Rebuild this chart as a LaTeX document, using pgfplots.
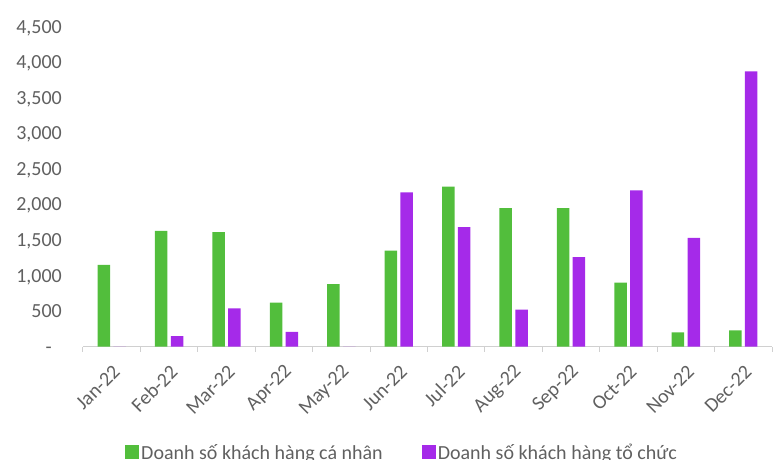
\documentclass[border=0pt]{standalone}
\usepackage{pgfplots}
\usepackage{pgfplotstable}
\pgfplotsset{compat=1.18}
\usepackage{fontspec}
\setmainfont{Carlito}

\definecolor{barGreen}{RGB}{82,190,60}
\definecolor{barPurple}{RGB}{165,42,233}
\definecolor{labelGrey}{RGB}{96,96,96}
\definecolor{axisGrey}{RGB}{208,208,208}

% Monthly sales: individual customers (green) and organisations (purple)
\pgfplotstableread{
idx month  green purple
0   Jan-22 1150  0
1   Feb-22 1630  150
2   Mar-22 1610  540
3   Apr-22 620   210
4   May-22 880   0
5   Jun-22 1350  2170
6   Jul-22 2250  1680
7   Aug-22 1950  520
8   Sep-22 1950  1260
9   Oct-22 900   2200
10  Nov-22 200   1530
11  Dec-22 230   3870
}\sales

\begin{document}
\begin{tikzpicture}[font=\fontsize{20bp}{24bp}\selectfont]
\useasboundingbox (-83bp,-113.3bp) rectangle (690bp,346.7bp);
\begin{axis}[
  width=689bp, height=320bp, scale only axis,
  ybar=3.3bp, bar width=12.5bp,
  xmin=-0.5, xmax=11.5, ymin=0, ymax=4500,
  axis x line*=bottom, axis y line*=left,
  y axis line style={draw=none},
  x axis line style={draw=axisGrey, line width=1bp},
  xtick={0,...,11},
  xticklabels={Jan-22,Feb-22,Mar-22,Apr-22,May-22,Jun-22,Jul-22,Aug-22,Sep-22,Oct-22,Nov-22,Dec-22},
  minor xtick={-0.5,0.5,...,11.5},
  ytick={0,500,...,4500},
  yticklabels={{-\hphantom{0}},500,{1,000},{1,500},{2,000},{2,500},{3,000},{3,500},{4,000},{4,500}},
  major tick length=0pt, minor tick length=5bp, tick align=outside,
  minor tick style={draw=axisGrey, line width=1bp},
  tick label style={text=labelGrey},
  yticklabel style={anchor=base east, inner sep=0pt, xshift=-21bp, yshift=-6.5bp},
  xticklabel style={inner sep=0pt, xshift=5bp, yshift=-22bp, anchor=east, rotate=45},
  legend columns=2,
  legend cell align=left,
  legend style={draw=none, fill=none, inner sep=0pt, text=labelGrey,
    at={(0.061,-0.359)}, anchor=south west,
    nodes={inner xsep=2bp, inner ysep=0pt},
    /tikz/every even column/.append style={column sep=37bp}},
  legend image code/.code={\fill[#1] (0bp,-6.5bp) rectangle (14bp,7.5bp);},
]
\addplot[fill=barGreen, draw=none] table[x=idx, y=green] {\sales};
\addplot[fill=barPurple, draw=none] table[x=idx, y=purple] {\sales};
\legend{Doanh số khách hàng cá nhân, Doanh số khách hàng tổ chức}
\end{axis}
\end{tikzpicture}
\end{document}
